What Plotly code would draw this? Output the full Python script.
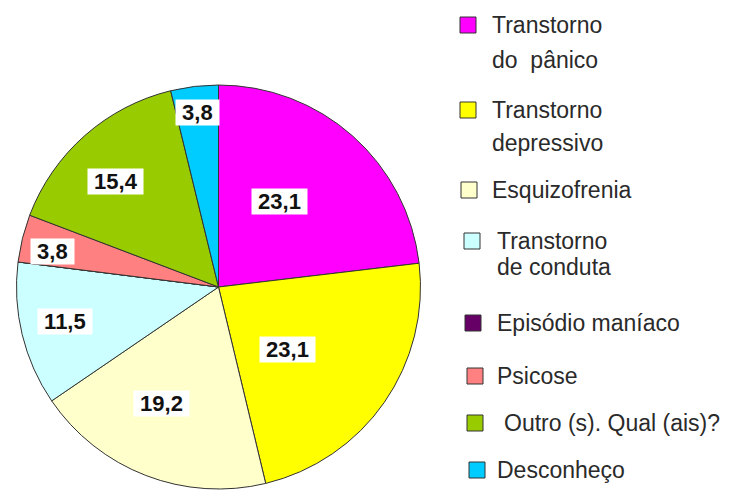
import math
import plotly.graph_objects as go

# ---- data ----
categories = [
    "Transtorno<br>do\u00a0 pânico",
    "Transtorno<br>depressivo",
    "Esquizofrenia",
    "Transtorno<br>de conduta",
    "Episódio maníaco",
    "Psicose",
    "Outro (s). Qual (ais)?",
    "Desconheço",
]
values = [23.1, 23.1, 19.2, 11.5, 0.0, 3.8, 15.4, 3.8]
value_labels = ["23,1", "23,1", "19,2", "11,5", "", "3,8", "15,4", "3,8"]

# ---- styles / layout ----
colors = ["#FF00FF", "#FFFF00", "#FFFFCC", "#CCFFFF", "#660066", "#FF8080", "#99CC00", "#00CCFF"]
W, H = 737, 493
OFF = 8                                   # default page margin of the html body
FW, FH = W - OFF, H - OFF
cx, cy, R = 218.5, 287.0, 202.0           # pie centre / radius in window pixels
label_frac = [0.52, 0.46, 0.64, 0.78, 0.0, 0.84, 0.73, 0.87]
label_shift = [-6, 7, 5, 1, 0, -2, -3, 0]  # degrees
marker_x = [460, 460, 461, 464, 465, 467, 467, 469]
text_x = [490, 490, 490, 495, 495, 495, 502, 495]
line_y = [[25, 60], [110, 143], [190], [241, 267], [323], [376], [423], [470]]
MS = 16  # legend square size

def px(x):
    return (x - OFF) / FW

def py(y):
    return 1 - (y - OFF) / FH

fig = go.Figure(go.Pie(
    labels=categories,
    values=values,
    sort=False,
    direction="clockwise",
    rotation=0,
    marker=dict(colors=colors, line=dict(color="#333333", width=1)),
    textinfo="none",
    hoverinfo="label+value",
    showlegend=False,
    domain=dict(x=[px(cx - R), px(cx + R)], y=[py(cy + R), py(cy - R)]),
))

annotations = []
total = sum(values)
cum = 0.0
for v, lab, f, sh in zip(values, value_labels, label_frac, label_shift):
    mid = (cum + v / 2) / total * 2 * math.pi + math.radians(sh)
    cum += v
    if not lab:
        continue
    x = cx + f * R * math.sin(mid)
    y = cy - f * R * math.cos(mid)
    annotations.append(dict(
        x=px(x), y=py(y), xref="paper", yref="paper",
        text="\u00a0" + lab + "\u00a0", showarrow=False,
        font=dict(family="Liberation Sans, Arial", size=22, color="#111111", weight="bold"),
        bgcolor="white", borderpad=0, xanchor="center", yanchor="middle",
    ))

shapes = []
for name, col, mx, tx, ly in zip(categories, colors, marker_x, text_x, line_y):
    shapes.append(dict(
        type="rect", xref="paper", yref="paper",
        x0=px(mx), x1=px(mx + MS), y0=py(ly[0] + MS / 2), y1=py(ly[0] - MS / 2),
        fillcolor=col, line=dict(color="#333333", width=1),
    ))
    for line, yy in zip(name.split("<br>"), ly):
        annotations.append(dict(
            x=px(tx), y=py(yy), xref="paper", yref="paper", text=line, showarrow=False,
            font=dict(family="Liberation Sans, Arial", size=23, color="#2a2a2a"),
            xanchor="left", yanchor="middle", align="left",
        ))

fig.update_layout(
    width=FW, height=FH,
    margin=dict(l=0, r=0, t=0, b=0),
    paper_bgcolor="white", plot_bgcolor="white",
    annotations=annotations, shapes=shapes,
)

fig.write_html("out.html")
